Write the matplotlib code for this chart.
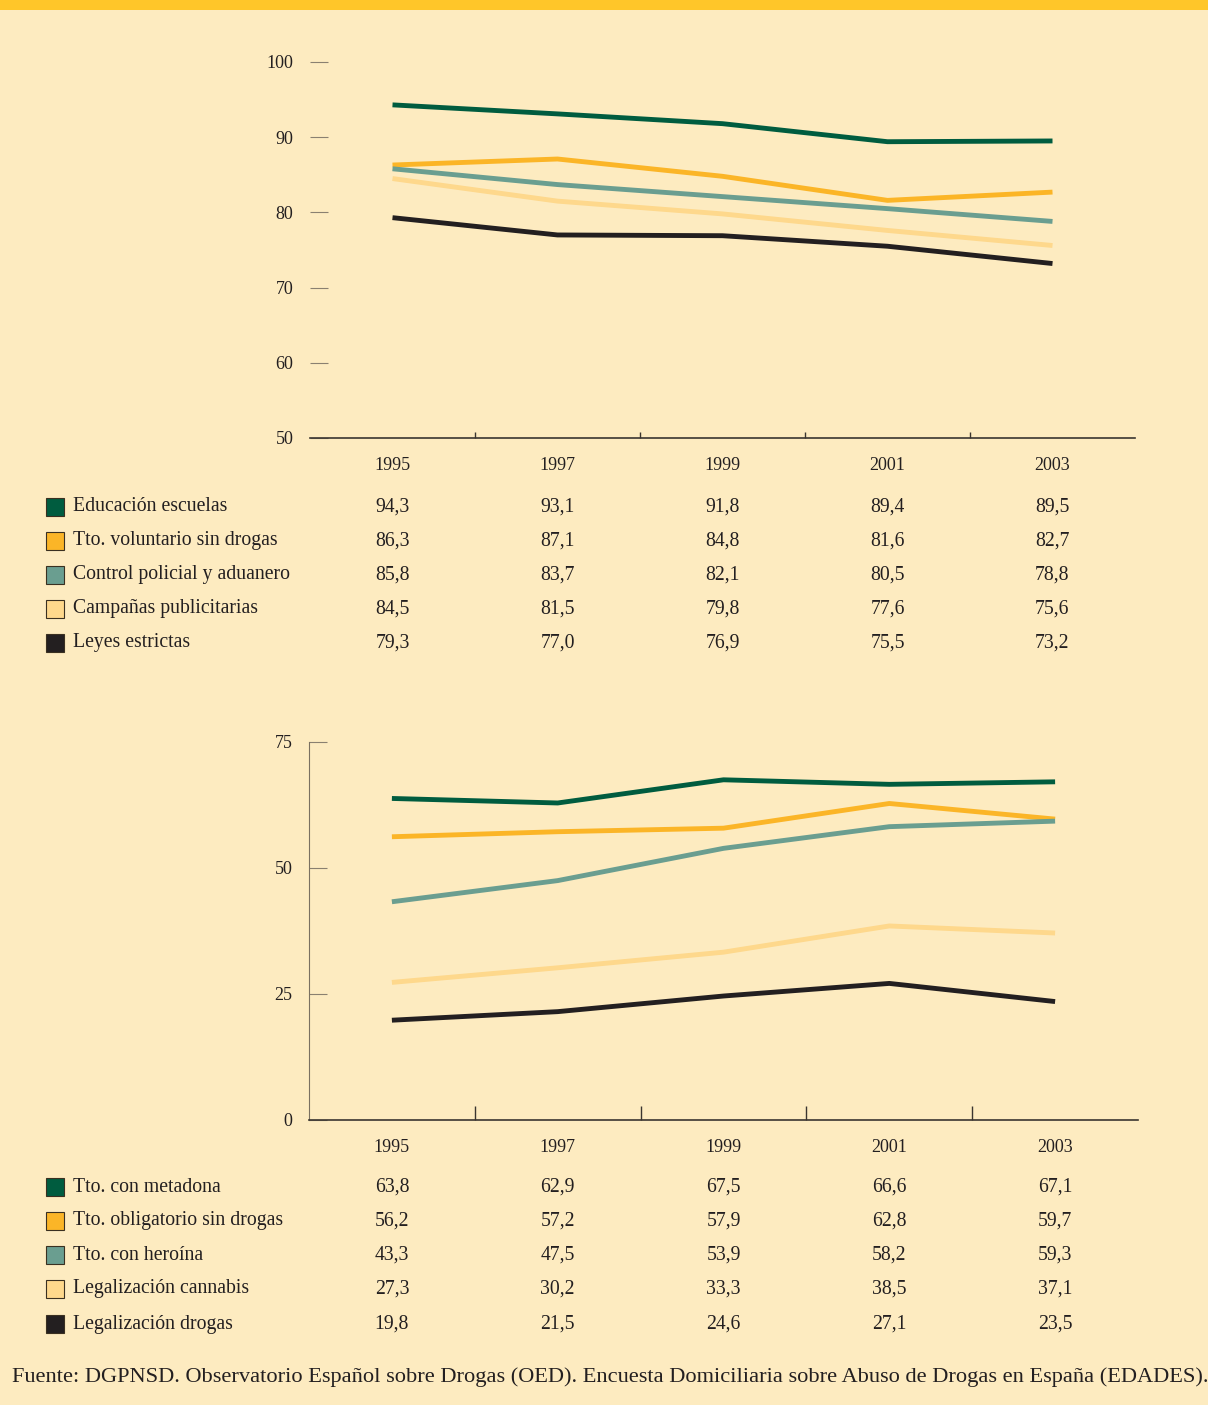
import numpy as np
import matplotlib.pyplot as plt
from matplotlib.patches import Rectangle
from matplotlib.transforms import blended_transform_factory

plt.rcParams['font.family'] = ['Liberation Serif', 'DejaVu Serif']

years = ['1995', '1997', '1999', '2001', '2003']

labels_top = ['Educación escuelas', 'Tto. voluntario sin drogas',
              'Control policial y aduanero', 'Campañas publicitarias',
              'Leyes estrictas']
educacion = [94.3, 93.1, 91.8, 89.4, 89.5]
voluntario = [86.3, 87.1, 84.8, 81.6, 82.7]
control = [85.8, 83.7, 82.1, 80.5, 78.8]
campanas = [84.5, 81.5, 79.8, 77.6, 75.6]
leyes = [79.3, 77.0, 76.9, 75.5, 73.2]

labels_bot = ['Tto. con metadona', 'Tto. obligatorio sin drogas',
              'Tto. con heroína', 'Legalización cannabis',
              'Legalización drogas']
metadona = [63.8, 62.9, 67.5, 66.6, 67.1]
obligatorio = [56.2, 57.2, 57.9, 62.8, 59.7]
heroina = [43.3, 47.5, 53.9, 58.2, 59.3]
cannabis = [27.3, 30.2, 33.3, 38.5, 37.1]
drogas = [19.8, 21.5, 24.6, 27.1, 23.5]

colors = ['#005c3f', '#fbb527', '#6a9e90', '#fed88c', '#231f20']
bg = '#fdebc0'

fig = plt.figure(figsize=(12.08, 14.05), dpi=100, facecolor=bg)
W, H = 1208, 1405

# yellow band on top
fig.patches.append(Rectangle((0, 1 - 10 / H), 1, 10 / H, transform=fig.transFigure,
                             facecolor='#ffc629', edgecolor='none'))


def fy(py):
    return 1 - py / H


def panel(rect, series, labels, ylim, yticks, show_left, year_y, row_y, minor_len):
    ax = fig.add_axes(rect)
    ax.set_facecolor(bg)
    x = np.arange(len(years))
    for s, c in zip(series, colors):
        ax.plot(x, s, color=c, lw=3.5, solid_capstyle='butt')
    ax.set_xlim(-0.5, len(years) - 0.5)
    ax.set_ylim(*ylim)
    for sp in ['top', 'right']:
        ax.spines[sp].set_visible(False)
    ax.spines['left'].set_visible(show_left)
    ax.spines['left'].set_color('#7a7060')
    ax.spines['bottom'].set_color('#3a3530')
    ax.spines['bottom'].set_linewidth(1.2)
    ax.set_yticks(yticks)
    ax.set_yticklabels([str(v) for v in yticks])
    ax.tick_params(axis='y', direction='in', length=13, width=0.8, color='#8a8070',
                   labelsize=13, pad=12, labelcolor='#231f20')
    ax.set_xticks([])
    ax.set_xticks(x[:-1] + 0.5, minor=True)
    ax.tick_params(axis='x', which='minor', direction='in', length=minor_len, width=1,
                   color='#3a3530')

    tr = blended_transform_factory(ax.transData, fig.transFigure)
    for i, yr in enumerate(years):
        ax.text(i, fy(year_y), yr, transform=tr, ha='center', va='center',
                fontsize=13, color='#231f20')
    for r, (lab, s, c) in enumerate(zip(labels, series, colors)):
        yy = fy(row_y[r])
        fig.patches.append(Rectangle((46 / W, yy - 9 / H), 18 / W, 18 / H,
                                     transform=fig.transFigure, facecolor=c,
                                     edgecolor='#3a3020', lw=0.8))
        fig.text(73 / W, yy, lab, ha='left', va='center', fontsize=14.2, color='#231f20')
        for i, v in enumerate(s):
            ax.text(i, yy, f'{v:.1f}'.replace('.', ','), transform=tr, ha='center',
                    va='center', fontsize=14.2, color='#231f20')
    return ax


panel([310 / W, fy(438), 825 / W, (438 - 62) / H],
      [educacion, voluntario, control, campanas, leyes], labels_top,
      (50, 100), [50, 60, 70, 80, 90, 100], False, 466,
      [507, 541, 575, 609, 643], 4)

panel([309 / W, fy(1120), 829 / W, (1120 - 742) / H],
      [metadona, obligatorio, heroina, cannabis, drogas], labels_bot,
      (0, 75), [0, 25, 50, 75], True, 1147,
      [1187, 1221, 1255, 1289, 1324], 10)

fig.text(12 / W, fy(1377),
         'Fuente: DGPNSD. Observatorio Español sobre Drogas (OED). '
         'Encuesta Domiciliaria sobre Abuso de Drogas en España (EDADES).',
         ha='left', va='center', fontsize=16.1, color='#231f20')

fig.savefig('out.png', dpi=100, facecolor=bg)
